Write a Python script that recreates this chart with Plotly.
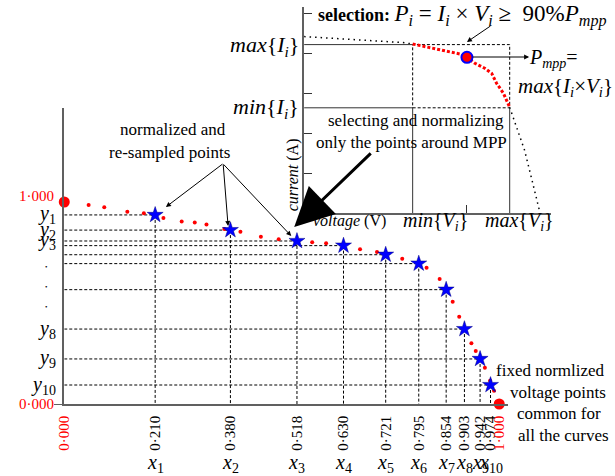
import plotly.graph_objects as go

W, H = 615, 476
SERIF = "Liberation Serif"

# ---------------- main (normalized) chart data ----------------
star_x = [0.209, 0.382, 0.535, 0.642, 0.739, 0.815, 0.878, 0.920, 0.956, 0.980]
star_y = [0.936, 0.861, 0.807, 0.784, 0.739, 0.695, 0.566, 0.371, 0.223, 0.094]
x_tick_labels = ["0·210", "0·380", "0·518", "0·630", "0·721", "0·795",
                 "0·854", "0·903", "0·942", "0·974"]
x_names = ["1", "2", "3", "4", "5", "6", "7", "8", "9", "10"]
y_named_idx = [0, 1, 2, 7, 8, 9]
y_names = ["1", "2", "3", "8", "9", "10"]
dot_x = [0.056, 0.092, 0.145, 0.183, 0.228, 0.270, 0.300, 0.327, 0.368, 0.405,
         0.452, 0.493, 0.570, 0.602, 0.680, 0.719, 0.777, 0.833, 0.863, 0.893,
         0.908, 0.936, 0.946, 0.967, 0.979, 0.988]
dot_y = [0.985, 0.974, 0.952, 0.944, 0.921, 0.903, 0.898, 0.888, 0.866, 0.853,
         0.828, 0.815, 0.801, 0.796, 0.766, 0.753, 0.719, 0.675, 0.619, 0.506,
         0.432, 0.301, 0.262, 0.180, 0.115, 0.066]
end_x = [0.0, 1.0]
end_y = [1.0, 0.0]

# ---------------- inset (I-V curve) data ----------------
iv_left_v = [0, 5, 10, 11]
iv_left_i = [4.41, 4.34, 4.26, 4.225]
iv_sel_v = [11, 12, 13, 14, 15, 15.8, 16.5, 17.3, 18.3, 19, 19.5, 20.2, 20.83]
iv_sel_i = [4.225, 4.175, 4.11, 4.058, 4.01, 3.975, 3.893, 3.743, 3.618, 3.493,
            3.243, 2.993, 2.64]
iv_right_v = [20.83, 21.33, 22.33, 23.0, 23.83]
iv_right_i = [2.64, 2.28, 1.575, 0.91, 0.075]
V_min, V_max = 11.0, 20.83
I_min, I_max = 2.63, 4.21
V_mpp, I_mpp = 16.5, 3.893


def PX(px):
    return px / W


def PY(py):
    return 1 - py / H


fig = go.Figure()

# dashed guide lines from each resampled point to the axes
hx, hy, vx, vy = [], [], [], []
for x, y in zip(star_x, star_y):
    hx += [0, x, None]
    hy += [y, y, None]
    vx += [x, x, None]
    vy += [y, 0, None]
fig.add_trace(go.Scatter(x=hx + vx, y=hy + vy, mode="lines",
                         line=dict(color="black", width=1, dash="3px,2px"),
                         hoverinfo="skip"))
fig.add_trace(go.Scatter(x=dot_x, y=dot_y, mode="markers",
                         marker=dict(color="red", size=4)))
fig.add_trace(go.Scatter(x=end_x, y=end_y, mode="markers",
                         marker=dict(color="red", size=11), cliponaxis=False))
fig.add_trace(go.Scatter(x=star_x, y=star_y, mode="markers",
                         marker=dict(color="#0000ff", size=12, symbol="star",
                                     line=dict(color="#000080", width=0.5))))

# inset
fig.add_trace(go.Scatter(x=iv_left_v, y=iv_left_i, xaxis="x2", yaxis="y2", mode="lines",
                         line=dict(color="black", width=1.5, dash="1.5px,4px")))
fig.add_trace(go.Scatter(x=iv_right_v, y=iv_right_i, xaxis="x2", yaxis="y2", mode="lines",
                         line=dict(color="black", width=1.5, dash="1.5px,4px")))
fig.add_trace(go.Scatter(x=[0, V_min, None, 0, V_min, None, V_min, V_min, None, V_max, V_max],
                         y=[I_max, I_max, None, I_min, I_min, None, 0, I_min, None, 0, I_min],
                         xaxis="x2", yaxis="y2", mode="lines",
                         line=dict(color="#333", width=1)))
fig.add_trace(go.Scatter(x=[V_min, V_max, V_max, V_min, V_min],
                         y=[I_min, I_min, I_max, I_max, I_min],
                         xaxis="x2", yaxis="y2", mode="lines",
                         line=dict(color="black", width=1, dash="3px,2px")))
fig.add_trace(go.Scatter(x=iv_sel_v, y=iv_sel_i, xaxis="x2", yaxis="y2", mode="lines",
                         line=dict(color="red", width=3, dash="3px,2px")))
fig.add_trace(go.Scatter(x=[V_mpp], y=[I_mpp], xaxis="x2", yaxis="y2", mode="markers",
                         marker=dict(color="red", size=11, line=dict(color="#0000ff", width=2))))

ann = []


def txt(x, y, text, size=16, xanchor="center", color="black", **kw):
    d = dict(x=x, y=y, text=text, showarrow=False, xanchor=xanchor, yanchor="middle",
             font=dict(family=SERIF, size=size, color=color))
    d.setdefault("xref", "paper")
    d.setdefault("yref", "paper")
    d.update(kw)
    ann.append(d)


# y labels of main chart
txt(PX(49), 1.0, "1·000", 15, "right", "red", yref="y", yshift=6)
txt(PX(49), 0.0, "0·000", 15, "right", "red", yref="y")
for i, n in zip(y_named_idx, y_names):
    txt(PX(51), star_y[i], "<i>y</i><sub>%s</sub>" % n, 20, "right", yref="y")
for py in [267, 287, 307]:
    txt(PX(39), PY(py), "•", 7)
# x name labels
for x, n in zip(star_x, x_names):
    txt(x, PY(463), "<i>x</i><sub>%s</sub>" % n, 20, xref="x")

# texts
txt(PX(167), PY(130), "normalized and", 17)
txt(PX(164), PY(152), "re-sampled points", 17)
txt(PX(413), PY(120), "selecting and normalizing", 17)
txt(PX(409), PY(142), "only the points around MPP", 17)
txt(PX(550), PY(370), "fixed normlized", 17)
txt(PX(557), PY(392), "voltage points", 17)
txt(PX(558), PY(413), "common for", 17)
txt(PX(563), PY(435), "all the curves", 17)
txt(PX(297), PY(46), "<i>max</i>{<i>I</i><sub><i>i</i></sub>}", 22, "right")
txt(PX(297), PY(108), "<i>min</i>{<i>I</i><sub><i>i</i></sub>}", 22, "right")
txt(PX(346), PY(221), "<i>voltage</i> (V)", 16)
txt(PX(433), PY(221), "<i>min</i>{<i>V</i><sub><i>i</i></sub>}", 20)
txt(PX(518), PY(221), "<i>max</i>{<i>V</i><sub><i>i</i></sub>}", 20)
txt(PX(289), PY(175), "<i>current</i> (A)", 16, textangle=-90)
txt(PX(312), PY(16),
    "<b>selection:</b> <span style='font-size:23px'><i>P</i><sub><i>i</i></sub> = "
    "<i>I</i><sub><i>i</i></sub> × <i>V</i><sub><i>i</i></sub> ≥  90%"
    "<i>P</i><sub><i>mpp</i></sub></span>", 18, "left")
txt(PX(553), PY(58), "<i>P</i><sub><i>mpp</i></sub>=", 20)
txt(PX(565), PY(87), "<i>max</i>{<i>I</i><sub><i>i</i></sub>×<i>V</i><sub><i>i</i></sub>}", 21)


def arrow(hx, hy, tx, ty, width=1, head=2, size=1):
    ann.append(dict(x=PX(hx), y=PY(hy), xref="paper", yref="paper",
                    ax=tx - hx, ay=ty - hy, axref="pixel", ayref="pixel",
                    showarrow=True, arrowhead=head, arrowsize=size,
                    arrowwidth=width, arrowcolor="black", text=""))


arrow(160, 207, 218, 163)
arrow(223, 226, 218, 163)
arrow(287, 236, 218, 163)
arrow(290, 227, 368, 152, width=3, head=2, size=2.6)
arrow(465, 42, 490, 25)
arrow(528, 57, 470, 57)

fig.update_layout(
    width=W, height=H, margin=dict(l=0, r=0, t=0, b=0),
    paper_bgcolor="white", plot_bgcolor="rgba(0,0,0,0)", showlegend=False,
    annotations=ann,
    xaxis=dict(domain=[PX(57), PX(507)], range=[0, 450 / 440.7], showgrid=False,
               zeroline=False, showline=True, linecolor="#606060", linewidth=1.5,
               tickvals=[0.0] + star_x + [1.0],
               ticktext=["<span style='color:red'>0·000</span>"] + x_tick_labels
               + ["<span style='color:red'>1·000</span>"],
               tickangle=-90, ticks="", ticklabelstandoff=4,
               tickfont=dict(family=SERIF, size=15, color="black"), fixedrange=True),
    yaxis=dict(domain=[PY(404), PY(108)], range=[0, 296 / 202], showgrid=False,
               zeroline=False, showline=True, linecolor="#606060", linewidth=1.5,
               tickvals=[0], ticks="outside", ticklen=9, tickcolor="#606060",
               showticklabels=False, fixedrange=True),
    xaxis2=dict(domain=[PX(300), PX(550)], range=[0, 25], anchor="y2", showgrid=False,
                zeroline=False, showline=True, linecolor="#606060", linewidth=1.5,
                tickvals=[V_mpp], ticks="inside", ticklen=8, tickcolor="#333",
                showticklabels=False),
    yaxis2=dict(domain=[PY(213), PY(7)], range=[0, 206 / 40], anchor="x2", showgrid=False,
                zeroline=False, showline=True, linecolor="#606060", linewidth=1.5,
                tickvals=[1, 2, 3, 4, 5], ticks="inside", ticklen=8, tickcolor="#333",
                showticklabels=False),
)

fig.write_html("out.html", config={"displayModeBar": False},
               post_script="document.body.style.margin='0px';")
